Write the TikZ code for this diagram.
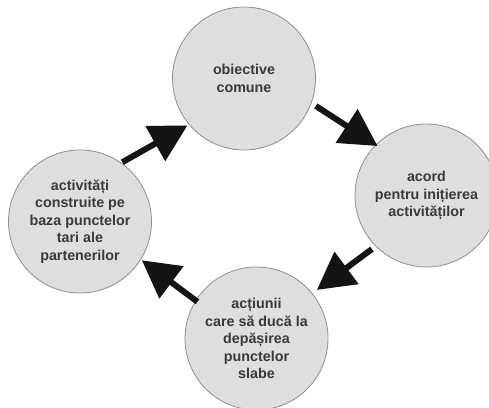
\documentclass[tikz,border=0pt]{standalone}
\usepackage{fontspec}
\setmainfont{Liberation Sans}
\usetikzlibrary{arrows.meta}
\definecolor{discfill}{HTML}{DEDEDE}
\definecolor{discline}{HTML}{8E8E8E}
\definecolor{labeltext}{HTML}{3A3A3A}
\definecolor{arrowink}{HTML}{141414}
\tikzset{
  disc/.style={circle, draw=discline, line width=0.8pt, fill=discfill,
    minimum size=143pt, inner sep=0pt, outer sep=0pt, align=center,
    text=labeltext, font=\fontsize{14.3}{17.5}\selectfont\bfseries},
  flow/.style={draw=arrowink, line width=6pt,
    -{Triangle[length=37pt,width=39pt,fill=arrowink]}}
}
\begin{document}
\begin{tikzpicture}[x=1pt,y=-1pt]
  \useasboundingbox (0,0) rectangle (489,407);
  \begin{scope}
    \clip (0,0) rectangle (489,407);
    \node[disc] (goals) at (244,78.5) {obiective\\comune};
    \node[disc] (accord) at (426.5,195.5) {acord\\pentru inițierea\\activităților};
    \node[disc] (actions) at (256.5,338.5) {acțiunii\\care să ducă la\\depășirea\\punctelor\\slabe};
    \node[disc] (activities) at (80,221.5) {activități\\construite pe\\baza punctelor\\tari ale\\partenerilor};
  \end{scope}
  \draw[flow, shorten <=1.5pt, shorten >=2pt] (activities.55) -- (goals.220);
  \draw[flow, shorten <=5.5pt, shorten >=-2pt] (goals.-20) -- (accord.135);
  \draw[flow, shorten <=5pt, shorten >=6pt] (accord.225) -- (actions.39);
  \draw[flow, shorten <=-2pt, shorten >=1.5pt] (actions.148) -- (activities.-32);
\end{tikzpicture}
\end{document}
